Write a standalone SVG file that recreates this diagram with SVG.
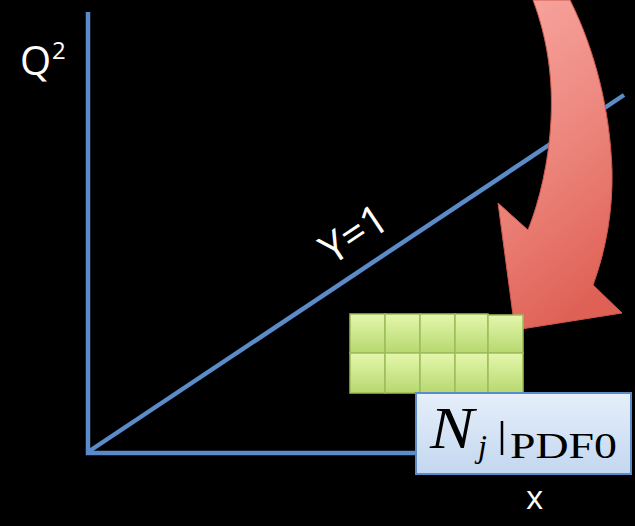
<svg xmlns="http://www.w3.org/2000/svg" width="635" height="526" viewBox="0 0 635 526">
<defs>
<linearGradient id="redg" x1="0.2" y1="0" x2="0.5" y2="1">
<stop offset="0" stop-color="#f7a49d"/>
<stop offset="0.5" stop-color="#ec857c"/>
<stop offset="1" stop-color="#df6054"/>
</linearGradient>
<linearGradient id="greeng" x1="0" y1="0" x2="0" y2="1">
<stop offset="0" stop-color="#e4f7ad"/>
<stop offset="1" stop-color="#b7d86f"/>
</linearGradient>
<linearGradient id="blueg" x1="0" y1="0" x2="0" y2="1">
<stop offset="0" stop-color="#e6effa"/>
<stop offset="1" stop-color="#c3d7f0"/>
</linearGradient>
</defs>
<style>
.axis{stroke:#5b8bc9;stroke-width:4.5;fill:none;stroke-linecap:butt}
.lbl{font-family:"Open Sans","Liberation Sans",sans-serif;fill:#ffffff}
.cell{fill:url(#greeng);stroke:#9cbd5a;stroke-width:1.5}
.math{font-family:"Liberation Serif","DejaVu Serif",serif;fill:#000}
</style>
<rect width="635" height="526" fill="#000"/>
<g id="connectors">
<path class="axis" d="M88,12 V453 H420"/>
<path class="axis" d="M88,452 L624,95"/>
</g>
<g id="labels">
<text class="lbl" x="20" y="75" font-size="40">Q</text>
<text class="lbl" x="52" y="59" font-size="24">2</text>
<text class="lbl" x="526" y="509" font-size="33">x</text>
<text class="lbl" font-size="42" text-anchor="middle" transform="translate(362,246) rotate(-33.7)">Y=1</text>
</g>
<g id="arrow">
<path d="M533,0 C548,40 553,80 551,120 C549,160 540,200 528,230 L498,203 L515,330 L622,313 L593,285 C606,250 613,210 612,170 C610,110 595,50 570,0 Z" fill="url(#redg)" stroke="#d0594e" stroke-width="1"/>
</g>
<g id="blocks">
<rect class="cell" x="350" y="314" width="35" height="39"/>
<rect class="cell" x="385" y="314" width="35" height="39"/>
<rect class="cell" x="420" y="314" width="35" height="39"/>
<rect class="cell" x="455" y="314" width="33" height="39"/>
<rect class="cell" x="488" y="315" width="35" height="38"/>
<rect class="cell" x="350" y="353" width="35" height="40"/>
<rect class="cell" x="385" y="353" width="35" height="40"/>
<rect class="cell" x="420" y="353" width="35" height="40"/>
<rect class="cell" x="455" y="353" width="33" height="40"/>
<rect class="cell" x="488" y="353" width="35" height="40"/>
</g>
<g id="pdfbox">
<rect x="416" y="393" width="215" height="81" fill="url(#blueg)" stroke="#5b8bc9" stroke-width="2"/>
<text class="math" x="430" y="448" font-size="60" font-style="italic" textLength="44" lengthAdjust="spacingAndGlyphs">N</text>
<text class="math" x="478" y="457" font-size="32" font-style="italic">j</text>
<line x1="502" y1="421" x2="502" y2="455" stroke="#000" stroke-width="2.5"/>
<text class="math" x="510" y="458" font-size="35" textLength="107" lengthAdjust="spacingAndGlyphs">PDF0</text>
</g>
</svg>
